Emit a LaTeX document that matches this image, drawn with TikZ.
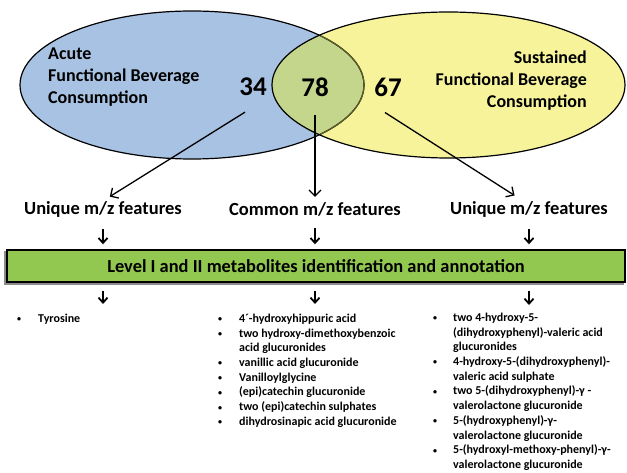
\documentclass[tikz,border=0pt]{standalone}
\usepackage{fontspec}
\setmainfont{Carlito}
\usetikzlibrary{arrows.meta,positioning,calc,backgrounds}
\definecolor{acuteblue}{RGB}{167,194,226}
\definecolor{sustyellow}{RGB}{246,243,155}
\definecolor{lensgreen}{RGB}{196,214,140}
\definecolor{lensline}{RGB}{95,95,40}
\definecolor{barfill}{RGB}{146,200,80}
\newcommand{\metbullet}{\raisebox{0.6pt}{\fontsize{8}{8}\selectfont\textbullet}}

\tikzset{
    setlabel/.style={font=\fontsize{18}{22}\selectfont\bfseries, inner sep=0pt},
    count/.style={font=\fontsize{27}{32}\selectfont\bfseries, inner sep=0pt},
    feature/.style={font=\fontsize{18.5}{22}\selectfont\bfseries, inner sep=0pt},
    levelbar/.style={draw=black, line width=1.4pt, fill=barfill,
        minimum width=618pt, minimum height=32pt,
        font=\fontsize{18.4}{21}\selectfont\bfseries},
    metlist/.style={font=\fontsize{12}{14.7}\selectfont\bfseries, inner sep=0pt, anchor=north west},
    bigarrow/.style={-{Straight Barb[length=6pt,width=12pt]}, line width=1.3pt},
    smallarrow/.style={-{Straight Barb[length=5pt,width=9pt]}, line width=1.8pt}
}

\begin{document}
\begin{tikzpicture}[x=1pt,y=-1pt]
    \useasboundingbox (0,0) rectangle (627,473);

    % venn
    \fill[acuteblue] (192,85) ellipse [x radius=172, y radius=74];
    \fill[sustyellow] (448.5,85) ellipse [x radius=176.5, y radius=73];
    \begin{scope}
        \clip (192,85) ellipse [x radius=172, y radius=74];
        \fill[lensgreen] (448.5,85) ellipse [x radius=176.5, y radius=73];
    \end{scope}
    \draw[line width=1.2pt] (192,85) ellipse [x radius=172, y radius=74];
    \begin{scope}
        \clip (448.5,85) ellipse [x radius=176.5, y radius=73];
        \draw[lensline, line width=1.2pt] (192,85) ellipse [x radius=172, y radius=74];
    \end{scope}
    \draw[line width=1.2pt] (448.5,85) ellipse [x radius=176.5, y radius=73];

    \node[setlabel, anchor=west, align=left] (acute) at (48,77)
        {Acute\\Functional Beverage\\Consumption};
    \node[setlabel, anchor=east, align=right] (sustained) at (587,81)
        {Sustained\\Functional Beverage\\Consumption};

    \node[count] (n34) at (253,87) {34};
    \node[count] (n78) at (315,87) {78};
    \node[count] (n67) at (388,87) {67};

    % features
    \node[feature] (uniqA) at (103,209) {Unique m/z features};
    \node[feature] (common) at (315,209) {Common m/z features};
    \node[feature] (uniqS) at (529,209) {Unique m/z features};

    \draw[bigarrow, shorten >=8pt] ([xshift=-8pt,yshift=-16pt]n34.south) -- (uniqA.north);
    \draw[bigarrow, shorten >=5pt] ([yshift=-18pt]n78.south) -- (common.north);
    \draw[bigarrow, shorten >=10pt] ([xshift=-3pt,yshift=-16pt]n67.south) -- ([xshift=-6pt]uniqS.north);

    % annotation bar
    \node[levelbar] (level) at (316,266) {Level I and II metabolites identification and annotation};
    \begin{scope}[on background layer]
        \fill[black!45] ([xshift=-2pt,yshift=-2pt]level.south west) rectangle ([xshift=-2pt,yshift=-2pt]level.north east);
    \end{scope}

    \foreach \f in {uniqA,common,uniqS}
        \draw[smallarrow, shorten <=12pt, shorten >=5pt] (\f) -- (\f |- level.north);

    % metabolite lists
    \node[metlist] (tyr) at (17,312) {\begin{tabular}{@{}p{21pt}@{}l@{}}
        \metbullet & Tyrosine
    \end{tabular}};
    \node[metlist] (commonlist) at (218,312) {\begin{tabular}{@{}p{21pt}@{}l@{}}
        \metbullet & 4´-hydroxyhippuric acid\\
        \metbullet & two hydroxy-dimethoxybenzoic\\
                   & acid glucuronides\\
        \metbullet & vanillic acid glucuronide\\
        \metbullet & Vanilloylglycine\\
        \metbullet & (epi)catechin glucuronide\\
        \metbullet & two (epi)catechin sulphates\\
        \metbullet & dihydrosinapic acid glucuronide
    \end{tabular}};
    \node[metlist] (sustlist) at (433,311) {\begin{tabular}{@{}p{20pt}@{}l@{}}
        \metbullet & two 4-hydroxy-5-\\
                   & (dihydroxyphenyl)-valeric acid\\
                   & glucuronides\\
        \metbullet & 4-hydroxy-5-(dihydroxyphenyl)-\\
                   & valeric acid sulphate\\
        \metbullet & two 5-(dihydroxyphenyl)-γ -\\
                   & valerolactone glucuronide\\
        \metbullet & 5-(hydroxyphenyl)-γ-\\
                   & valerolactone glucuronide\\
        \metbullet & 5-(hydroxyl-methoxy-phenyl)-γ-\\
                   & valerolactone glucuronide
    \end{tabular}};

    \draw[smallarrow, shorten <=8pt, shorten >=8pt] (uniqA |- level.south) -- (uniqA |- tyr.north);
    \draw[smallarrow, shorten <=8pt, shorten >=8pt] (common |- level.south) -- (common |- commonlist.north);
    \draw[smallarrow, shorten <=8pt, shorten >=6pt] (uniqS |- level.south) -- (uniqS |- sustlist.north);
\end{tikzpicture}
\end{document}
